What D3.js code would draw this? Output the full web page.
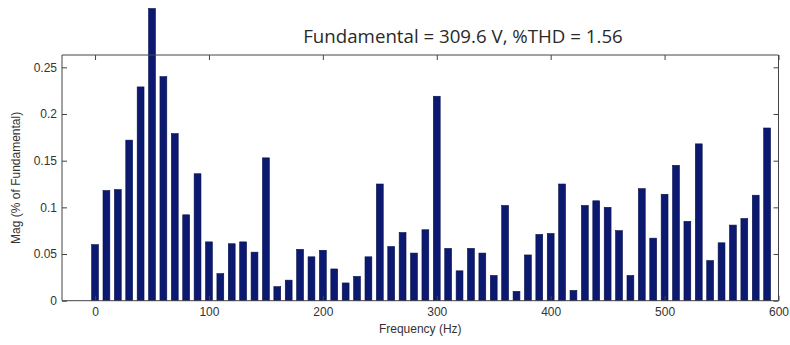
<!DOCTYPE html>
<html>
<head>
<meta charset="utf-8">
<script src="https://cdn.jsdelivr.net/npm/d3@7/dist/d3.min.js"></script>
<style>
  html, body { margin: 0; padding: 0; background: #fff; }
  svg { display: block; }
</style>
</head>
<body>
<svg id="chart" width="790" height="345"></svg>
<script>
// ---- data ----
const frequencies = [0,10,20,30,40,50,60,70,80,90,100,110,120,130,140,150,160,170,180,190,
  200,210,220,230,240,250,260,270,280,290,300,310,320,330,340,350,360,370,380,390,
  400,410,420,430,440,450,460,470,480,490,500,510,520,530,540,550,560,570,580,590];
const magnitudes = [0.060,0.118,0.119,0.172,0.229,0.313,0.240,0.179,0.092,0.136,
  0.063,0.029,0.061,0.063,0.052,0.153,0.015,0.022,0.055,0.047,
  0.054,0.034,0.019,0.026,0.047,0.125,0.058,0.073,0.051,0.076,
  0.219,0.056,0.032,0.056,0.051,0.027,0.102,0.010,0.049,0.071,
  0.072,0.125,0.011,0.102,0.107,0.100,0.075,0.027,0.120,0.067,
  0.114,0.145,0.085,0.168,0.043,0.062,0.081,0.088,0.113,0.185];
const xTicks = [0,100,200,300,400,500,600];
const yTicks = [0,0.05,0.1,0.15,0.2,0.25];
const titleText = "Fundamental = 309.6 V, %THD = 1.56";
const xLabel = "Frequency (Hz)";
const yLabel = "Mag (% of Fundamental)";

// ---- layout ----
const pLeft = 62, pRight = 778.5, pTop = 55, pBottom = 300.7;
const svg = d3.select("#chart");

const x = d3.scaleLinear().domain([-29, 600]).range([pLeft, pRight]);
const y = d3.scaleLinear().domain([0, 0.2632]).range([pBottom, pTop]);

const data = frequencies.map((f, i) => ({ f, v: magnitudes[i] }));
const barW = (x(10) - x(0)) * 0.6;

// bars
svg.append("g").selectAll("rect").data(data).join("rect")
  .attr("x", d => x(d.f) - barW / 2)
  .attr("y", d => y(d.v))
  .attr("width", barW)
  .attr("height", d => y(0) - y(d.v))
  .attr("fill", "#0b1a70")
  .attr("stroke", "#05104a")
  .attr("stroke-width", 0.6);

const axisColor = "#444";
const labelFont = "Liberation Sans, Arial, sans-serif";

function styleAxis(g) {
  g.select(".domain").remove();
  g.selectAll(".tick line").attr("stroke", axisColor);
  g.selectAll(".tick text").attr("fill", "#333").style("font-family", labelFont).style("font-size", "12px");
}

// left axis
svg.append("g").attr("transform", `translate(${pLeft},0)`)
  .call(d3.axisLeft(y).tickValues(yTicks).tickSizeInner(-5).tickSizeOuter(0).tickPadding(5)
    .tickFormat(d => d === 0 ? "0" : String(d)))
  .call(styleAxis);

// right axis (ticks only)
svg.append("g").attr("transform", `translate(${pRight},0)`)
  .call(d3.axisRight(y).tickValues(yTicks).tickSizeInner(-5).tickSizeOuter(0).tickFormat(""))
  .call(styleAxis);

// bottom axis
svg.append("g").attr("transform", `translate(0,${pBottom})`)
  .call(d3.axisBottom(x).tickValues(xTicks).tickSizeInner(-5).tickSizeOuter(0).tickPadding(7))
  .call(styleAxis);

// top axis (ticks only)
svg.append("g").attr("transform", `translate(0,${pTop})`)
  .call(d3.axisTop(x).tickValues(xTicks).tickSizeInner(-5).tickSizeOuter(0).tickFormat(""))
  .call(styleAxis);

// frame
svg.append("path")
  .attr("d", `M${pLeft},${pBottom}V${pTop}H${pRight}V${pBottom}`)
  .attr("fill", "none").attr("stroke", axisColor).attr("stroke-width", 1);
svg.append("line")
  .attr("x1", pLeft).attr("x2", pRight).attr("y1", pBottom).attr("y2", pBottom)
  .attr("stroke", axisColor).attr("stroke-width", 1);

// axis labels
svg.append("text")
  .attr("x", (pLeft + pRight) / 2).attr("y", 333)
  .attr("text-anchor", "middle")
  .attr("fill", "#333").style("font-family", labelFont).style("font-size", "12px")
  .text(xLabel);

svg.append("text")
  .attr("transform", `translate(20,${(pTop + pBottom) / 2}) rotate(-90)`)
  .attr("text-anchor", "middle")
  .attr("fill", "#333").style("font-family", labelFont).style("font-size", "12px")
  .text(yLabel);

// title
const title = svg.append("text")
  .attr("x", 463).attr("y", 42.5)
  .attr("text-anchor", "middle")
  .attr("fill", "#2a2a2a").style("font-family", "Open Sans, Lato, sans-serif").style("font-size", "19px")
  .text(titleText);
const tw = title.node().getComputedTextLength();
if (tw > 0) title.style("font-size", (19 * 320 / tw).toFixed(2) + "px");
</script>
</body>
</html>
